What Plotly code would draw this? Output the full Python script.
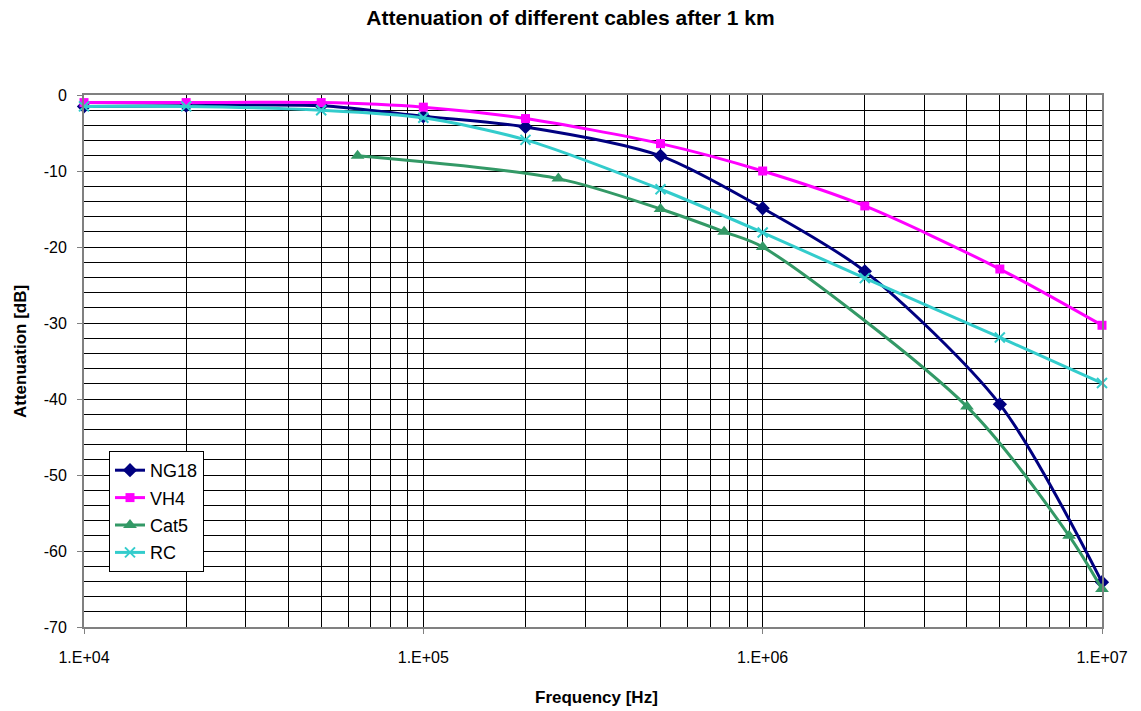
import plotly.graph_objects as go

# Data
ng18_f = [1e4, 2e4, 5e4, 1e5, 2e5, 5e5, 1e6, 2e6, 5e6, 1e7]
ng18_db = [-1.5, -1.4, -1.4, -2.8, -4.2, -8.0, -14.9, -23.2, -40.7, -64.1]

vh4_f = [1e4, 2e4, 5e4, 1e5, 2e5, 5e5, 1e6, 2e6, 5e6, 1e7]
vh4_db = [-1.0, -1.0, -1.0, -1.6, -3.1, -6.4, -10.0, -14.6, -22.9, -30.3]

cat5_f = [6.4e4, 2.5e5, 5e5, 7.7e5, 1e6, 4e6, 8e6, 1e7]
cat5_db = [-8.0, -11.0, -15.0, -18.0, -20.0, -41.0, -58.0, -65.0]

rc_f = [1e4, 2e4, 5e4, 1e5, 2e5, 5e5, 1e6, 2e6, 5e6, 1e7]
rc_db = [-1.5, -1.5, -2.0, -3.0, -5.9, -12.4, -18.1, -24.1, -31.9, -37.9]

x_tickvals = [1e4, 1e5, 1e6, 1e7]
x_ticktext = ["1.E+04", "1.E+05", "1.E+06", "1.E+07"]
x_minor = [m * d for d in (1e4, 1e5, 1e6) for m in range(2, 10)]
y_tickvals = [0, -10, -20, -30, -40, -50, -60, -70]
y_ticktext = ["0", "-10", "-20", "-30", "-40", "-50", "-60", "-70"]

series = [
    ("NG18", ng18_f, ng18_db, "#000080", "diamond", 11),
    ("VH4", vh4_f, vh4_db, "#FF00FF", "square", 9),
    ("Cat5", cat5_f, cat5_db, "#339966", "triangle-up", 12),
    ("RC", rc_f, rc_db, "#33CCCC", "x-thin-open", 10),
]

fig = go.Figure()
for name, xs, ys, col, sym, sz in series:
    fig.add_trace(go.Scatter(
        x=xs, y=ys, name=name, mode="lines+markers", legendgroup=name,
        cliponaxis=False,
        line=dict(color=col, width=3, shape="spline", smoothing=0.8),
        marker=dict(symbol=sym, size=sz, color=col,
                    line=dict(color=col, width=2 if sym.startswith("x") else 0)),
    ))

# body margin removed via post_script -> figure fills the window
W, H = 1141, 711
L, R, T, B = 84, W - 1102, 95, H - 627
pw = W - L - R
ph = H - T - B

def px_x(px):
    return (px - L) / pw

def px_y(py):
    return (H - B - py) / ph

fig.update_layout(
    width=W, height=H,
    paper_bgcolor="white", plot_bgcolor="white",
    margin=dict(l=L, r=R, t=T, b=B, autoexpand=False),
    font=dict(family="Liberation Sans, Arial", size=16, color="black"),
    title=dict(text="<b>Attenuation of different cables after 1 km</b>",
               x=0.5, xanchor="center", y=1 - 18 / H, yanchor="middle",
               font=dict(size=21)),
    showlegend=True,
    legend=dict(
        x=px_x(109), y=px_y(451), xanchor="left", yanchor="top",
        bgcolor="white", bordercolor="black", borderwidth=1,
        font=dict(size=18), tracegroupgap=1, itemwidth=30,
    ),
    annotations=[
        dict(text="<b>Frequency [Hz]</b>", xref="paper", yref="paper",
             x=px_x(596), y=px_y(697), xanchor="center", yanchor="middle",
             showarrow=False, font=dict(size=17)),
        dict(text="<b>Attenuation [dB]</b>", xref="paper", yref="paper",
             x=px_x(20), y=px_y(352), xanchor="center", yanchor="middle",
             textangle=-90, showarrow=False, font=dict(size=17)),
    ],
)

fig.update_xaxes(
    type="log", range=[4, 7], automargin=False,
    tickvals=x_tickvals, ticktext=x_ticktext,
    showgrid=True, gridcolor="black", gridwidth=1,
    minor=dict(tickvals=x_minor, showgrid=True, gridcolor="black", gridwidth=1),
    ticks="outside", ticklen=5, tickcolor="#808080", ticklabelstandoff=10,
    showline=True, linecolor="#808080", linewidth=2, mirror=True,
    tickfont=dict(size=16), zeroline=False,
)
fig.update_yaxes(
    range=[-70, 0], automargin=False,
    tickvals=y_tickvals, ticktext=y_ticktext,
    showgrid=True, gridcolor="black", gridwidth=1,
    minor=dict(dtick=2, showgrid=True, gridcolor="black", gridwidth=1),
    ticks="outside", ticklen=5, tickcolor="#808080", ticklabelstandoff=7,
    showline=True, linecolor="#808080", linewidth=2, mirror=True,
    tickfont=dict(size=16), zeroline=False,
)

fig.write_html(
    "out.html",
    config={"displayModeBar": False},
    post_script="document.body.style.margin='0';document.body.style.overflow='hidden';",
)
